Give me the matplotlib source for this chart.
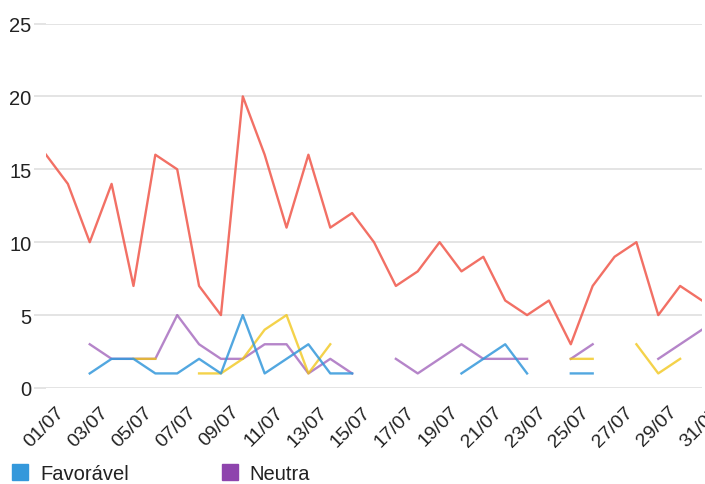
import numpy as np
import matplotlib
matplotlib.use('Agg')
import matplotlib.pyplot as plt
from matplotlib.patches import Patch
from matplotlib.transforms import ScaledTranslation

nan = np.nan
dias = [f"{d:02d}/07" for d in range(1, 32)]
desfavoravel = [16, 14, 10, 14, 7, 16, 15, 7, 5, 20,
                16, 11, 16, 11, 12, 10, 7, 8, 10, 8,
                9, 6, 5, 6, 3, 7, 9, 10, 5, 7, 6]
favoravel = [nan, nan, 1, 2, 2, 1, 1, 2, 1, 5,
             1, 2, 3, 1, 1, nan, nan, nan, nan, 1,
             2, 3, 1, nan, 1, 1, nan, nan, nan, nan, nan]
neutra = [nan, nan, 3, 2, 2, 2, 5, 3, 2, 2,
          3, 3, 1, 2, 1, nan, 2, 1, 2, 3,
          2, 2, 2, nan, 2, 3, nan, nan, 2, 3, 4]
mista = [nan, nan, nan, nan, 2, 2, nan, 1, 1, 2,
         4, 5, 1, 3, nan, nan, nan, nan, nan, nan,
         nan, nan, nan, nan, 2, 2, nan, 3, 1, 2, nan]
yticks = [0, 5, 10, 15, 20, 25]

plt.rcParams['font.family'] = ['Liberation Sans', 'DejaVu Sans']

fig = plt.figure(figsize=(7.05, 4.85), dpi=100)
W, H = 705, 485
ax = fig.add_axes([46 / W, 1 - 389 / H, 656 / W, 364.5 / H])

x = np.arange(len(dias))
c_red = '#f0574a'
c_blue = '#3498db'
c_purple = '#8e44ad'
c_yellow = '#f1c40f'
lw = 1.7
ax.plot(x, desfavoravel, color=c_red, alpha=0.85, lw=lw, zorder=2)
ax.plot(x, neutra, color=c_purple, alpha=0.65, lw=lw, zorder=3)
ax.plot(x, mista, color=c_yellow, alpha=0.75, lw=lw, zorder=4)
ax.plot(x, favoravel, color=c_blue, alpha=0.85, lw=lw, zorder=5)

ax.set_xlim(0, len(dias) - 1)
ax.set_ylim(0, 25)
ax.set_yticks(yticks)
ax.set_yticklabels([str(v) for v in yticks])
ax.yaxis.grid(True, color='#dddddd', lw=1.1)
ax.set_axisbelow(True)
for s in ax.spines.values():
    s.set_visible(False)
ax.tick_params(axis='y', length=8.6, width=1.1, color='#dddddd', pad=2,
               labelsize=14.5, labelcolor='#222222')
ax.set_xticks(x[::2])
ax.set_xticklabels(dias[::2])
ax.tick_params(axis='x', length=0, pad=15, labelsize=14, labelcolor='#222222')
offset = ScaledTranslation(16 / 100, 0, fig.dpi_scale_trans)
for lab in ax.get_xticklabels():
    lab.set_rotation(45)
    lab.set_ha('right')
    lab.set_va('center')
    lab.set_rotation_mode('anchor')
    lab.set_transform(lab.get_transform() + offset)

handles = [Patch(color=c_blue, label='Favorável'),
           Patch(color=c_purple, label='Neutra')]
fig.legend(handles=handles, ncol=2, loc='upper left',
           bbox_to_anchor=(12 / W, 1 - 465 / H), frameon=False,
           fontsize=14.5, handlelength=0.8, handleheight=0.8,
           handletextpad=0.6, columnspacing=4.6, borderpad=0,
           borderaxespad=0, labelcolor='#222222')

fig.savefig('out.png', dpi=100)
